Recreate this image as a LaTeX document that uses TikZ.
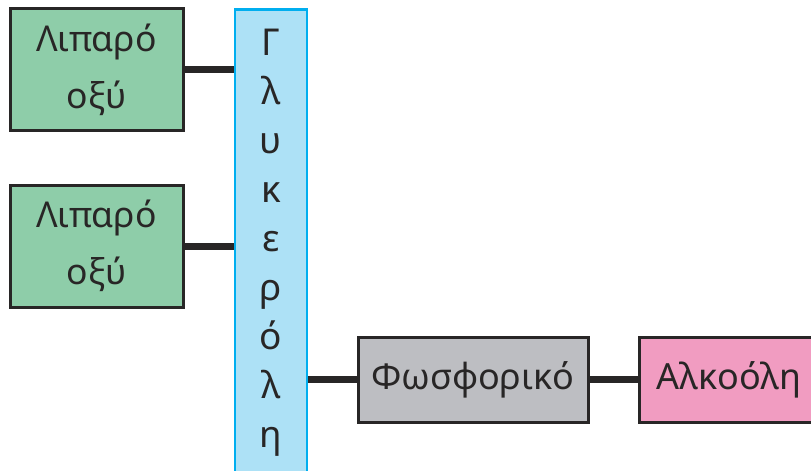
\documentclass[tikz,border=0pt]{standalone}
\usepackage{fontspec}
\setmainfont{Noto Sans}
\usetikzlibrary{backgrounds}
\definecolor{boxgreen}{RGB}{142,205,169}
\definecolor{boxblue}{RGB}{173,225,246}
\definecolor{boxblueline}{RGB}{0,174,239}
\definecolor{boxgray}{RGB}{189,190,194}
\definecolor{boxpink}{RGB}{241,156,193}
\definecolor{edgedark}{RGB}{40,38,38}
\tikzset{
  basebox/.style={draw=edgedark, line width=3pt, inner sep=0pt, text=edgedark},
  acidbox/.style={basebox, fill=boxgreen, minimum width=173pt, minimum height=122pt,
    align=center, font=\fontsize{35.5}{57}\selectfont},
  phosbox/.style={basebox, fill=boxgray, minimum width=230pt, minimum height=85pt,
    font=\fontsize{36}{47}\selectfont},
  alcbox/.style={basebox, fill=boxpink, minimum width=180pt, minimum height=85pt,
    font=\fontsize{36}{47}\selectfont},
  glycol/.style={draw=boxblueline, line width=2.5pt, fill=boxblue, inner sep=0pt,
    minimum width=72pt, minimum height=490pt},
  collabel/.style={align=center, inner sep=0pt, text=edgedark,
    font=\fontsize{37}{49}\selectfont},
  bond/.style={draw=edgedark, line width=7pt}
}
\begin{document}
\begin{tikzpicture}[x=1pt,y=-1pt]
\useasboundingbox (0,0) rectangle (811,471);
\clip (0,0) rectangle (811,471);
\node[acidbox] (acidA) at (96.5,69.5) {Λιπαρό\\οξύ};
\node[acidbox] (acidB) at (96.5,246) {Λιπαρό\\οξύ};
\node[glycol, anchor=north] (col) at (271,8) {};
\node[collabel] (colText) at (271,243) {Γ\\λ\\υ\\κ\\ε\\ρ\\ό\\λ\\η};
\node[phosbox] (phos) at (473,379.5) {Φωσφορικό};
\node[alcbox] (alc) at (729,379.5) {Αλκοόλη};
\begin{pgfonlayer}{background}
\draw[bond] (acidA.east) -- (acidA.east -| col.west);
\draw[bond] (acidB.east) -- (acidB.east -| col.west);
\draw[bond] (phos.west -| col.east) -- (phos.west);
\draw[bond] (phos.east) -- (alc.west);
\end{pgfonlayer}
\end{tikzpicture}
\end{document}
